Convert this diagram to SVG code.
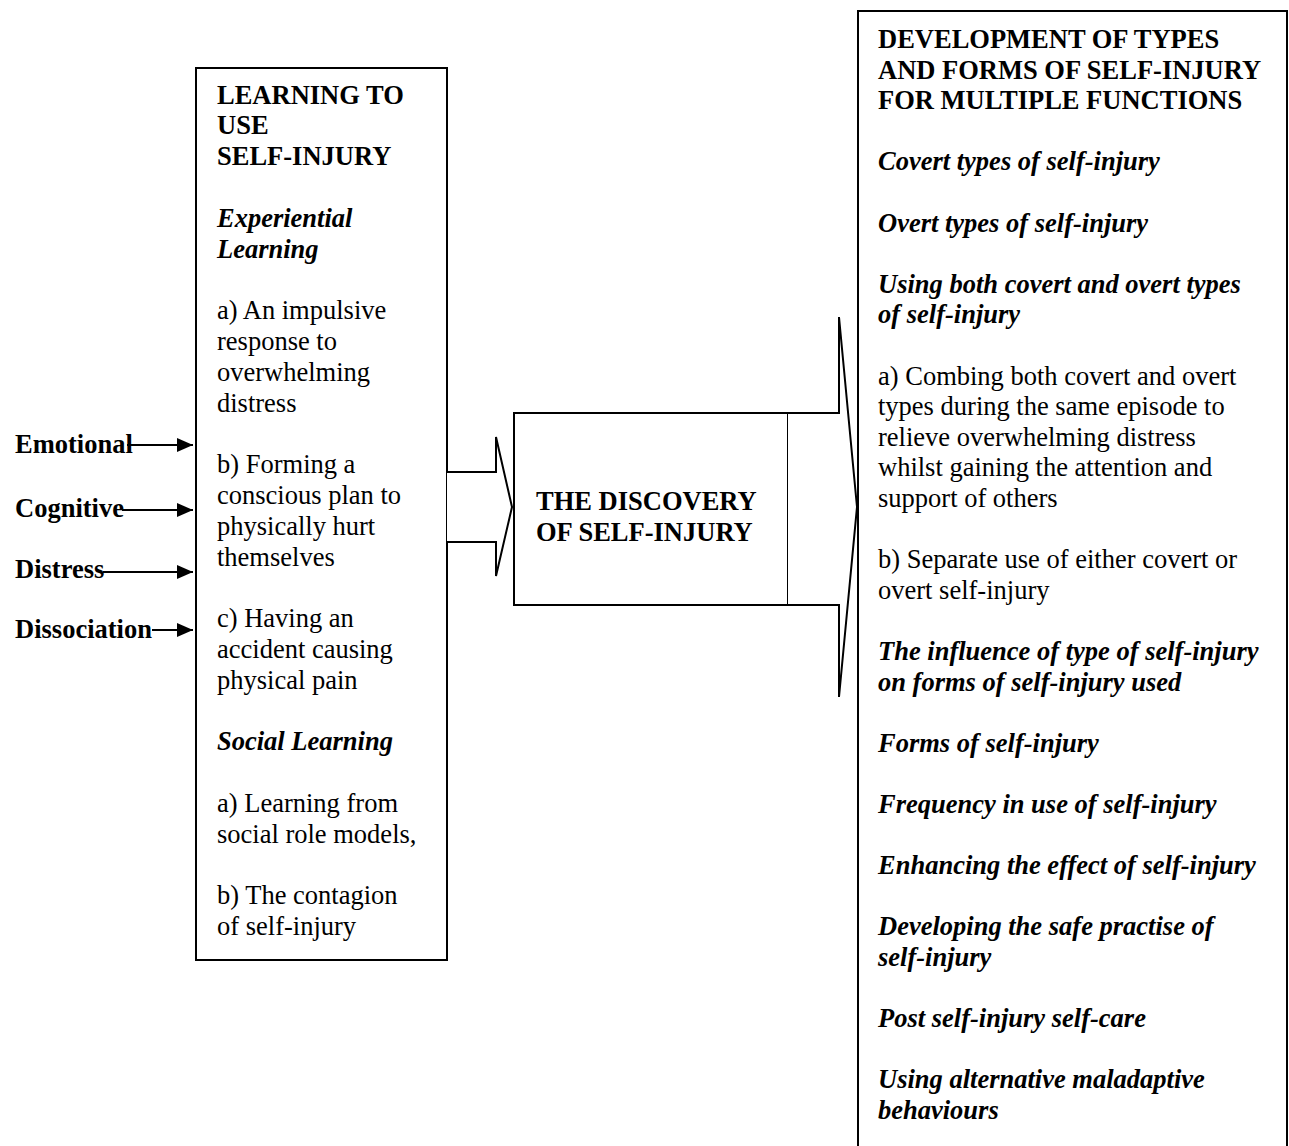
<svg xmlns="http://www.w3.org/2000/svg" width="1289" height="1146" viewBox="0 0 1289 1146">
  <style>
    text { font-family: "Liberation Serif", "Times New Roman", serif; font-size: 26.5px; fill: #000; }
    .b { font-weight: bold; }
    .bi { font-weight: bold; font-style: italic; }
    .box { fill: #fff; stroke: #000; stroke-width: 2; }
    .line { fill: none; stroke: #000; stroke-width: 2; }
    .block { fill: #fff; stroke: #000; stroke-width: 2; stroke-linejoin: miter; }
  </style>
  <defs>
    <marker id="head" markerUnits="userSpaceOnUse" markerWidth="16" markerHeight="14" refX="16" refY="7" orient="auto">
      <path d="M0,0 L16,7 L0,14 Z" fill="#000"/>
    </marker>
  </defs>
  <rect width="1289" height="1146" fill="#fff"/>

  <!-- Left box: learning to use self-injury -->
  <g id="learning">
    <rect class="box" x="196" y="68" width="251" height="892"/>
    <text x="217" y="103.5" class="b">LEARNING TO</text>
    <text x="217" y="134.3" class="b">USE</text>
    <text x="217" y="165.1" class="b">SELF-INJURY</text>
    <text x="217" y="226.7" class="bi">Experiential</text>
    <text x="217" y="257.5" class="bi">Learning</text>
    <text x="217" y="319.1">a) An impulsive</text>
    <text x="217" y="349.9">response to</text>
    <text x="217" y="380.7">overwhelming</text>
    <text x="217" y="411.5">distress</text>
    <text x="217" y="473.1">b) Forming a</text>
    <text x="217" y="503.9">conscious plan to</text>
    <text x="217" y="534.7">physically hurt</text>
    <text x="217" y="565.5">themselves</text>
    <text x="217" y="627.1">c) Having an</text>
    <text x="217" y="657.9">accident causing</text>
    <text x="217" y="688.7">physical pain</text>
    <text x="217" y="750.3" class="bi">Social Learning</text>
    <text x="217" y="811.9">a) Learning from</text>
    <text x="217" y="842.7">social role models,</text>
    <text x="217" y="904.3">b) The contagion</text>
    <text x="217" y="935.1">of self-injury</text>
  </g>

  <!-- Middle box: discovery -->
  <g id="discovery">
    <rect class="box" x="514" y="413" width="274" height="192"/>
    <text x="536" y="510" class="b">THE DISCOVERY</text>
    <text x="536" y="541" class="b">OF SELF-INJURY</text>
  </g>

  <!-- Right box: development of types and forms (runs off the bottom edge) -->
  <g id="development">
    <rect class="box" x="858" y="11" width="429" height="1160"/>
    <text x="878" y="48" class="b">DEVELOPMENT OF TYPES</text>
    <text x="878" y="78.6" class="b">AND FORMS OF SELF-INJURY</text>
    <text x="878" y="109.2" class="b">FOR MULTIPLE FUNCTIONS</text>
    <text x="878" y="170.4" class="bi">Covert types of self-injury</text>
    <text x="878" y="231.6" class="bi">Overt types of self-injury</text>
    <text x="878" y="292.8" class="bi">Using both covert and overt types</text>
    <text x="878" y="323.4" class="bi">of self-injury</text>
    <text x="878" y="384.6">a) Combing both covert and overt</text>
    <text x="878" y="415.2">types during the same episode to</text>
    <text x="878" y="445.8">relieve overwhelming distress</text>
    <text x="878" y="476.4">whilst gaining the attention and</text>
    <text x="878" y="507">support of others</text>
    <text x="878" y="568.2">b) Separate use of either covert or</text>
    <text x="878" y="598.8">overt self-injury</text>
    <text x="878" y="660" class="bi">The influence of type of self-injury</text>
    <text x="878" y="690.6" class="bi">on forms of self-injury used</text>
    <text x="878" y="751.8" class="bi">Forms of self-injury</text>
    <text x="878" y="813" class="bi">Frequency in use of self-injury</text>
    <text x="878" y="874.2" class="bi">Enhancing the effect of self-injury</text>
    <text x="878" y="935.4" class="bi">Developing the safe practise of</text>
    <text x="878" y="966" class="bi">self-injury</text>
    <text x="878" y="1027.2" class="bi">Post self-injury self-care</text>
    <text x="878" y="1088.4" class="bi">Using alternative maladaptive</text>
    <text x="878" y="1119" class="bi">behaviours</text>
  </g>

  <!-- Input labels -->
  <g id="inputs">
    <text x="15" y="453" class="b">Emotional</text>
    <text x="15" y="517" class="b">Cognitive</text>
    <text x="15" y="578" class="b">Distress</text>
    <text x="15" y="638" class="b">Dissociation</text>
  </g>

  <!-- Connectors -->
  <g id="connectors">
    <line class="line" x1="127" y1="445" x2="193" y2="445" marker-end="url(#head)"/>
    <line class="line" x1="122" y1="510" x2="193" y2="510" marker-end="url(#head)"/>
    <line class="line" x1="103" y1="572" x2="193" y2="572" marker-end="url(#head)"/>
    <line class="line" x1="152" y1="630" x2="193" y2="630" marker-end="url(#head)"/>
    <polyline class="block" points="447,472 496,472 496,437 512,507 496,576 496,542 447,542"/>
    <polyline class="block" points="788,413 839,413 839,317 857,507 839,697 839,605 788,605"/>
  </g>
</svg>
